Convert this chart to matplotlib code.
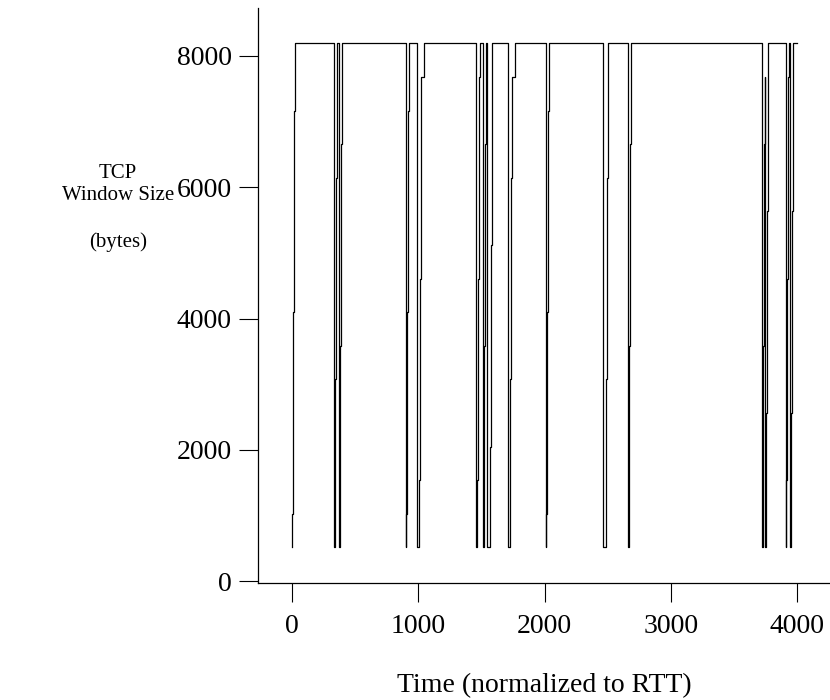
import matplotlib
matplotlib.use("Agg")
import matplotlib.pyplot as plt
from matplotlib import rcParams

rcParams['font.family'] = ['Liberation Serif', 'DejaVu Serif']
rcParams['font.size'] = 20

# window sizes the ramp climbs through after a loss (bytes)
window_levels = [512, 1024, 1536, 2048, 2560, 3072, 3584, 4096,
                 4608, 5120, 5632, 6144, 6656, 7168, 7680, 8192]
step_dt = 1.3   # time between two steps of a ramp (RTT units)

# loss events:
# time of drop to 512, time the ramp starts, time it leaves 7680 (0 = no pause)
drop_t = [0, 335, 374, 903, 992, 1454, 1510, 1546, 1713, 2011, 2465, 2663, 3724, 3745, 3911, 3946]
rise_t = [2, 338, 376, 905, 1007, 1466, 1516, 1568, 1724, 2014, 2484, 2665, 3726, 3752, 3913, 3950]
hold_t = [0, 0, 0, 0, 1045, 0, 0, 0, 1766, 0, 0, 0, 0, 0, 3938, 0]
end_t = 4000

xticks = [0, 1000, 2000, 3000, 4000]
yticks = [0, 2000, 4000, 6000, 8000]

# build the step series
t_pts, w_pts = [], []
for i in range(len(drop_t)):
    nxt = drop_t[i + 1] if i + 1 < len(drop_t) else end_t
    seg = [(drop_t[i], window_levels[0])]
    for k, lv in enumerate(window_levels[1:], start=1):
        tk = rise_t[i] + k * step_dt
        if lv == window_levels[-1] and hold_t[i]:
            tk = max(tk, hold_t[i])
        seg.append((tk, lv))
    for tt, ww in seg:
        if tt < nxt:
            t_pts.append(tt)
            w_pts.append(ww)
t_pts.append(end_t)
w_pts.append(w_pts[-1])

fig = plt.figure(figsize=(8.3, 7), dpi=100)
ax = fig.add_axes([258/830, 117/700, 572/830, 575/700])

ax.plot(t_pts, w_pts, drawstyle='steps-post', color='black', lw=0.9)

ax.set_xlim(-269, 4261)
ax.set_ylim(-30, 8731)
ax.set_xticks(xticks)
ax.set_yticks(yticks)

for s in ['top', 'right']:
    ax.spines[s].set_visible(False)
for s in ['left', 'bottom']:
    ax.spines[s].set_linewidth(0.9)
ax.tick_params(direction='out', length=14, width=0.8, labelsize=20)
ax.tick_params(axis='x', pad=8)
ax.tick_params(axis='y', pad=5)

ax.set_xlabel("Time (normalized to RTT)", labelpad=25)

fig.text(118/830, 1 - 174/700, "TCP", ha='center', va='center', fontsize=15)
fig.text(118/830, 1 - 196/700, "Window Size", ha='center', va='center', fontsize=15)
fig.text(118/830, 1 - 242/700, "(bytes)", ha='center', va='center', fontsize=15)

fig.savefig("out.png", dpi=100)
